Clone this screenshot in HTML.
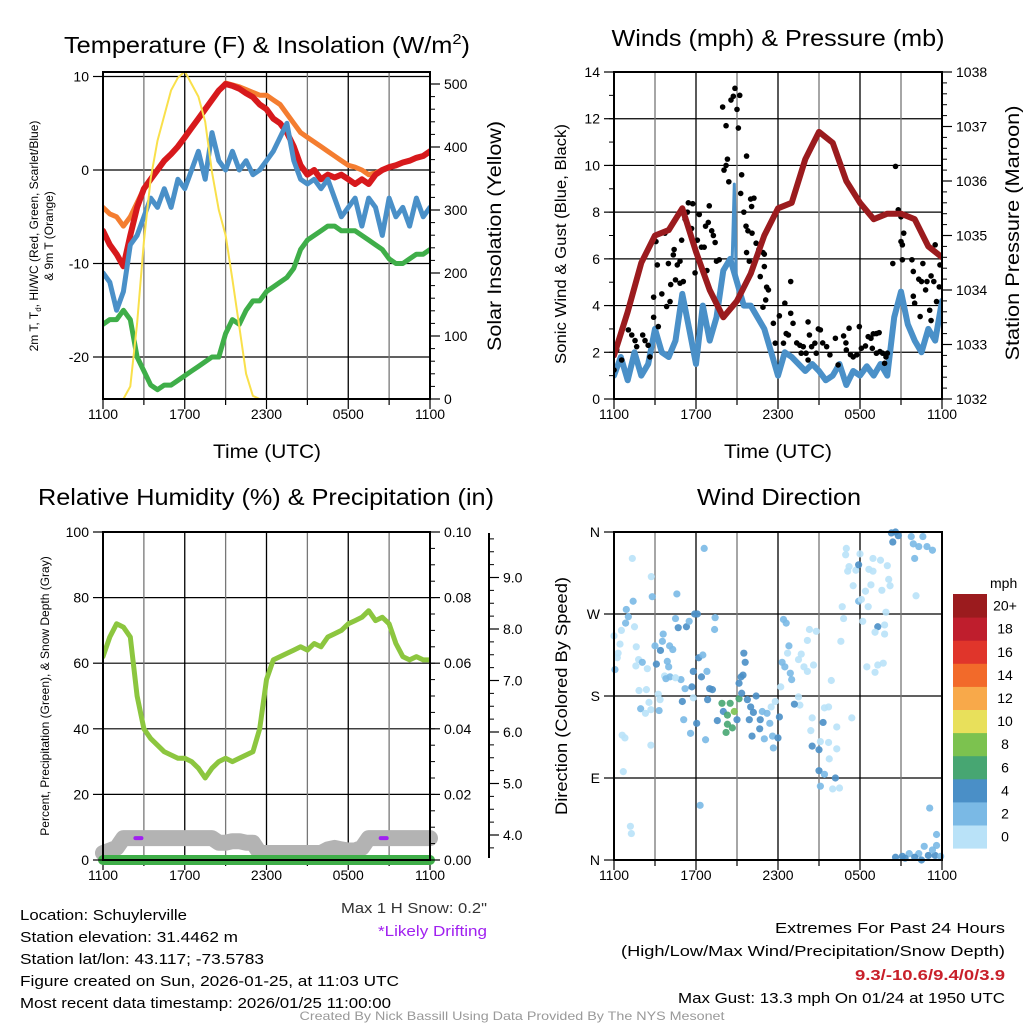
<!DOCTYPE html>
<html><head><meta charset="utf-8"><style>
html,body{margin:0;padding:0;background:#fff;}
svg{display:block;font-family:"Liberation Sans",Arial,sans-serif;}
</style></head><body>
<svg id="fig" width="1024" height="1024" viewBox="0 0 1024 1024" xmlns="http://www.w3.org/2000/svg">
<rect width="1024" height="1024" fill="#fff"/>
<text x="64" y="53" font-size="23" textLength="406" lengthAdjust="spacingAndGlyphs">Temperature (F) &amp; Insolation (W/m<tspan font-size="15" dy="-9">2</tspan><tspan dy="9">)</tspan></text>
<text x="778" y="46" font-size="23" text-anchor="middle" textLength="333" lengthAdjust="spacingAndGlyphs">Winds (mph) &amp; Pressure (mb)</text>
<text x="266" y="505" font-size="23" text-anchor="middle" textLength="456" lengthAdjust="spacingAndGlyphs">Relative Humidity (%) &amp; Precipitation (in)</text>
<text x="779" y="505" font-size="23" text-anchor="middle" textLength="164" lengthAdjust="spacingAndGlyphs">Wind Direction</text>

<text x="267" y="458" font-size="19" text-anchor="middle" textLength="108" lengthAdjust="spacingAndGlyphs">Time (UTC)</text>
<text x="778" y="458" font-size="19" text-anchor="middle" textLength="108" lengthAdjust="spacingAndGlyphs">Time (UTC)</text>

<text font-size="12" text-anchor="middle" transform="translate(38,236) rotate(-90)">2m T, T<tspan font-size="8" dy="3">d</tspan><tspan dy="-3">, HI/WC (Red, Green, Scarlet/Blue)</tspan></text>
<text font-size="12" text-anchor="middle" transform="translate(53,236) rotate(-90)">&amp; 9m T (Orange)</text>
<text font-size="19" text-anchor="middle" transform="translate(501,236) rotate(-90)" textLength="230" lengthAdjust="spacingAndGlyphs">Solar Insolation (Yellow)</text>
<text font-size="16" text-anchor="middle" transform="translate(566,244) rotate(-90)" textLength="240" lengthAdjust="spacingAndGlyphs">Sonic Wind &amp; Gust (Blue, Black)</text>
<text font-size="19" text-anchor="middle" transform="translate(1019,233) rotate(-90)" textLength="255" lengthAdjust="spacingAndGlyphs">Station Pressure (Maroon)</text>
<text font-size="12" text-anchor="middle" transform="translate(49,696) rotate(-90)">Percent, Precipitation (Green), &amp; Snow Depth (Gray)</text>
<text font-size="17" text-anchor="middle" transform="translate(567,696) rotate(-90)" textLength="238" lengthAdjust="spacingAndGlyphs">Direction (Colored By Speed)</text>

<g id="p1"></g>
<g id="p2"></g>
<g id="p3"></g>
<g id="p4"></g>
<g id="cbar"></g>

<g font-size="15">
<text x="20" y="920" textLength="167" lengthAdjust="spacingAndGlyphs">Location: Schuylerville</text>
<text x="20" y="942" textLength="218" lengthAdjust="spacingAndGlyphs">Station elevation: 31.4462 m</text>
<text x="20" y="964" textLength="244" lengthAdjust="spacingAndGlyphs">Station lat/lon: 43.117; -73.5783</text>
<text x="20" y="986" textLength="379" lengthAdjust="spacingAndGlyphs">Figure created on Sun, 2026-01-25, at 11:03 UTC</text>
<text x="20" y="1008" textLength="371" lengthAdjust="spacingAndGlyphs">Most recent data timestamp: 2026/01/25 11:00:00</text>
<text x="487" y="913" text-anchor="end" fill="#333" textLength="146" lengthAdjust="spacingAndGlyphs">Max 1 H Snow: 0.2"</text>
<text x="487" y="936" text-anchor="end" fill="#a020f0" textLength="109" lengthAdjust="spacingAndGlyphs">*Likely Drifting</text>
<text x="1005" y="933" text-anchor="end" textLength="230" lengthAdjust="spacingAndGlyphs">Extremes For Past 24 Hours</text>
<text x="1005" y="956" text-anchor="end" textLength="384" lengthAdjust="spacingAndGlyphs">(High/Low/Max Wind/Precipitation/Snow Depth)</text>
<text x="1005" y="980" text-anchor="end" fill="#c8202a" font-weight="bold" textLength="150" lengthAdjust="spacingAndGlyphs">9.3/-10.6/9.4/0/3.9</text>
<text x="1005" y="1003" text-anchor="end" textLength="327" lengthAdjust="spacingAndGlyphs">Max Gust: 13.3 mph On 01/24 at 1950 UTC</text>
<text x="512" y="1020" text-anchor="middle" font-size="12" fill="#999" textLength="425" lengthAdjust="spacingAndGlyphs">Created By Nick Bassill Using Data Provided By The NYS Mesonet</text>
</g>
</svg>
<script>
// ---- data (hours since 1100 UTC) ----
const halfHours = [0,0.5,1,1.5,2,2.5,3,3.5,4,4.5,5,5.5,6,6.5,7,7.5,8,8.5,9,9.5,10,10.5,11,11.5,12,12.5,13,13.5,14,14.5,15,15.5,16,16.5,17,17.5,18,18.5,19,19.5,20,20.5,21,21.5,22,22.5,23,23.5,24];
const timeTickLabels = ["1100","1700","2300","0500","1100"];
const tempRed = [-6.5,-8,-9,-10.3,-7,-4,-2,-1,0,1,1.7,2.5,3.5,4.5,5.5,6.5,7.5,8.5,9.2,9,8.7,8.2,7.8,7,6.5,5.5,5,4,2.5,0.5,-0.5,0,-1,-0.5,-0.8,-0.5,-1,-1.5,-1,-1.5,-0.5,0,0.3,0.5,0.8,1,1.3,1.5,2];
const tempOrange = [-4,-4.7,-5,-6,-5,-3.5,-2,-1,0,1,1.7,2.5,3.5,4.5,5.5,6.5,7.5,8.5,9.3,9.1,8.9,8.6,8.3,8,8,7.5,7,6,5,4,3.5,3,2.5,2,1.5,1,0.5,0.3,0,-0.5,-0.3,0,0.3,0.5,0.8,1,1.3,1.5,2];
const tempBlue = [-11,-12,-15,-13,-8,-7,-5,-3,-4,-2,-4,-1,-2,0,2,-1,4,1,0,2,0,1,-0.5,0,1,2,3.5,5,1,-1,-1.5,-1,-2,-1,-3,-5,-4,-3,-6,-3,-4,-7,-3,-5,-4,-6,-3,-5,-4];
const dewGreen = [-16.5,-16,-16,-15,-16,-20,-21.5,-23,-23.5,-23,-23,-22.5,-22,-21.5,-21,-20.5,-20,-20,-17.5,-16,-16.5,-15,-14,-14,-13,-12.5,-12,-11.5,-10.5,-8.5,-7.5,-7,-6.5,-6,-6,-6.5,-6.5,-6.5,-7,-7.5,-8,-8.5,-9.5,-10,-10,-9.5,-9,-9,-8.5];
const solar = [0,0,0,0,20,120,250,350,410,450,490,510,520,500,480,440,360,300,260,190,115,40,5,0,0,0,0,0,0,0,0,0,0,0,0,0,0,0,0,0,0,0,0,0,0,0,0,0,0];
const windSpeed = [1.0,1.8,0.8,2.0,1.0,1.5,3.0,2.0,1.8,2.5,4.5,3.0,1.5,4.0,2.5,3.5,5.5,6.0,5.0,4.0,4.0,3.5,3.0,2.0,1.0,2.0,1.8,1.5,1.2,1.5,1.2,0.8,1.0,1.5,0.6,1.2,1.0,1.4,1.0,1.5,1.0,3.5,4.6,3.2,2.5,2.0,3.0,2.5,4.2];
const spikeHour = [8.8]; const spikeSpeed = [9.2];
const pressureHours = [0,1,2,3,4,5,6,7,8,9,10,11,12,13,14,15,16,17,18,19,20,21,22,23,24];
const pressure = [1032.8,1033.6,1034.5,1035.0,1035.1,1035.5,1034.7,1034.0,1033.5,1033.8,1034.3,1035.0,1035.5,1035.6,1036.4,1036.9,1036.7,1036.0,1035.6,1035.3,1035.4,1035.4,1035.3,1034.8,1034.6];
const gustHours = [0,.2,.56,1.05,1.3,1.54,1.66,2.1,2.27,2.5,2.63,2.9,2.9,3.07,3.17,3.24,3.5,3.73,3.85,3.98,4.1,4.15,4.34,4.4,4.5,4.63,4.83,4.83,4.95,5.07,5.2,5.37,5.44,5.76,5.68,5.93,6.1,6.24,6.4,6.6,6.7,6.9,6.97,7.15,7.27,7.4,7.5,7.7,6.8,7.95,8.2,8.05,8.2,8.3,8.4,8.56,8.73,8.85,9.0,9.1,9.2,9.27,9.34,9.5,9.66,9.7,9.8,10.0,10.1,10.24,10.07,9.7,9.9,10.4,10.6,10.9,11.0,10.7,11.0,11.17,11.3,11.1,10.9,11.66,11.8,12.1,12.4,12.5,12.6,12.76,12.93,12.93,13.1,13.37,13.6,13.7,13.85,14.05,14.2,14.3,14.2,14.46,14.7,14.8,14.95,15.1,15.27,15.56,15.8,16.2,16.4,16.8,16.97,17.0,17.2,17.3,17.5,17.76,17.95,18.1,18.4,18.6,18.8,18.97,19.2,19.4,18.9,19.2,19.46,19.66,19.9,20.0,19.8,20.6,20.4,20.8,21.0,21.0,21.1,21.1,21.2,21.8,21.9,22.3,22.5,22.6,22.8,22.9,23.1,23.2,23.4,23.5,23.6,23.8,23.85,21.9,22.0,22.4,23.2];
const gustSpeed = [1.24,2.1,1.67,2.96,2.74,2.5,2.24,2.74,2.5,2.3,1.8,4.36,3.5,6.74,5.74,3.1,4.5,7.1,3.96,5.8,4.17,4.9,6.17,6.4,5.1,5.74,5.9,4.96,6.8,5.03,7.7,8.0,8.4,8.36,7.3,5.4,6.8,7.9,6.5,6.5,7.4,7.56,8.27,7.2,7.0,6.7,5.9,5.96,5.5,12.5,11.7,9.8,10.0,10.27,9.3,12.8,12.96,13.3,12.4,11.6,13.0,8.8,9.6,8.0,7.4,10.4,7.2,8.56,7.1,8.6,8.24,6.27,5.9,6.67,6.4,6.27,6.2,5.24,5.67,4.79,4.67,4.24,3.93,3.24,2.39,3.56,2.39,4.1,2.8,2.74,3.67,5.03,3.24,2.4,2.3,1.96,2.24,1.96,3.3,2.74,1.67,2.24,2.39,1.96,3.0,2.96,2.4,2.24,1.89,2.6,1.46,2.7,2.4,2.1,3.03,1.9,1.8,1.89,3.1,2.17,2.27,2.67,2.6,2.79,2.8,2.84,2.17,1.96,2.03,1.96,1.8,1.96,1.53,9.96,5.8,8.1,6.74,7.8,6.6,5.96,7.1,5.96,5.46,5.13,5.03,5.8,4.67,5.03,3.8,5.27,5.03,6.6,4.17,4.8,5.74,4.4,4.1,3.53,3.36];
const rh = [62,68,72,71,68,50,40,37,35,33,32,31,31,30,28,25,28,30,31,30,31,32,33,40,55,61,62,63,64,65,64,66,65,68,69,70,72,73,74,76,73,74,72,66,62,61,62,61,61];
const precip = [0,0,0,0,0,0,0,0,0,0,0,0,0,0,0,0,0,0,0,0,0,0,0,0,0,0,0,0,0,0,0,0,0,0,0,0,0,0,0,0,0,0,0,0,0,0,0,0,0];
const snowDepth = [3.65,3.7,3.75,3.94,3.94,3.94,3.94,3.94,3.94,3.94,3.94,3.94,3.94,3.94,3.94,3.94,3.94,3.85,3.85,3.88,3.88,3.85,3.85,3.65,3.65,3.65,3.65,3.65,3.65,3.65,3.65,3.65,3.65,3.72,3.75,3.72,3.7,3.7,3.75,3.94,3.94,3.94,3.94,3.94,3.94,3.94,3.94,3.94,3.94];
const driftHours = [2.6,20.6]; const driftDepth = [3.94,3.94];
const dirHours = [1.34,2.73,2.8,1.4,0.9,1.05,0.85,0,0.54,1.5,0.44,0.3,0.24,0.07,1.63,1.8,2.07,2.44,1.6,1.83,2.37,3.24,3.37,2.56,1.95,2.3,2.7,3.3,0.6,0.8,2.7,0.68,1.2,1.27,4.6,4.5,4.7,5.3,5.5,5.9,6.1,7.4,7.36,3.6,3.54,3.0,3.4,4.07,4.3,3.1,3.9,4.0,3.7,3.8,4.1,4.9,4.5,5.2,5.7,5.0,5.1,5.6,6.05,6.2,6.5,5.8,6.4,6.8,7.0,7.2,6.85,6.7,5.8,7.56,7.9,8.0,8.3,8.5,8.8,8.3,8.66,8.2,9.15,9.0,9.3,9.44,9.15,9.34,9.5,9.6,9.76,10.0,10.2,10.4,9.9,10.1,10.7,10.66,10.85,11.2,11.4,11.0,11.6,11.66,12.0,12.1,11.8,11.5,12.2,12.3,12.5,12.4,12.6,12.8,12.7,12.9,13.0,13.5,13.7,13.9,14.15,14.6,14.3,14.8,14.15,13.5,13.6,13.2,14.5,14.4,15.3,15.4,15.7,16.3,15.9,14.5,15.0,15.1,15.7,16.3,15.75,15.0,15.4,16.2,15.1,16.0,16.5,17.4,16.6,16.8,16.7,17.9,18.1,18.6,18.2,17.5,17.1,17.2,17.7,17.9,16.95,17.0,18.0,18.4,18.8,18.65,18.95,18.95,19.5,20.0,20.1,20.2,19.6,19.9,19.8,19.3,19.1,19.8,18.5,19.3,19.7,19.1,20.3,20.6,20.8,20.4,21.75,22.6,21.9,22.3,22.9,23.3,22.0,22.1,23.1,23.6,23.6,22.7,22.3,20.6,21.1,21.6,21.3,22.5,23.0,23.5,23.9,22.0,23.3,6.6,6.3];
const dirDeg = [331,311,289,284,275,267,260,246,252,256,237,227,222,209,234,220,217,210,213,186,187,182,176,173,166,161,165,164,137,134,126,97,37,29,292,265,255,256,262,270,270,266,253,248,240,235,230,235,231,215,218,212,202,199,201,198,200,188,190,174,154,139,150,222,225,207,201,207,188,187,176,132,178,153,172,163,159,172,163,149,145,140,177,154,201,203,194,183,227,217,176,168,162,180,154,136,154,144,163,161,150,133,136,123,134,157,174,168,190,217,212,264,260,235,227,205,198,220,226,212,207,214,253,251,241,179,170,171,156,142,151,167,168,146,197,125,121,130,129,122,111,98,94,90,81,78,79,156,240,265,278,284,286,278,262,301,317,322,318,324,335,342,336,295,302,319,317,331,329,323,308,301,296,272,258,256,250,248,212,214,216,206,359,360,356,349,355,355,347,344,344,340,331,290,57,28,16,15,7,3,4,7,2,0,5,5,4,3,11,342,60];
const dirSpeed = [0,0,2,2,2,2,2,0,0,0,0,0,0,2,0,0,2,0,0,0,0,0,0,0,2,0,0,2,0,0,0,0,0,0,2,2,4,4,2,4,4,2,2,2,2,2,4,2,2,4,2,2,0,2,2,2,0,2,4,4,2,2,4,4,2,4,4,2,4,4,4,2,0,4,6,4,6,6,8,6,6,6,6,4,4,4,4,4,4,4,4,4,4,4,4,4,4,4,2,2,2,2,2,2,4,4,0,0,0,2,2,2,2,2,0,2,2,0,0,0,0,0,0,0,0,0,0,4,0,0,4,0,0,0,0,4,4,0,0,0,0,4,2,4,2,0,0,0,0,0,0,2,0,0,0,0,0,0,0,4,0,0,0,0,0,0,0,0,0,0,0,0,0,0,0,4,0,0,0,0,0,0,4,4,4,4,2,2,2,2,2,2,2,0,2,2,2,2,2,4,4,2,4,4,4,4,2,4,2,2,2];
const cbarLabels = ["0","2","4","6","8","10","12","14","16","18","20+"];
const cbarColors = ["#b9e2f8","#7ab9e5","#4a8fc7","#47a672","#7cc24f","#e8e05b","#f8a94a","#f26a2a","#e0352b","#bf1e2d","#9b1b1e"];

// ---- drawing ----
const NS="http://www.w3.org/2000/svg";
function mk(parent, tag, attrs){const e=document.createElementNS(NS,tag);for(const k in attrs)e.setAttribute(k,attrs[k]);parent.appendChild(e);return e;}
function lin(d0,d1,r0,r1){return v=>r0+(v-d0)*(r1-r0)/(d1-d0);}

function panelFrame(g,L,T,R,B){
  const xs=lin(0,24,L,R);
  for(let h=3;h<24;h+=3){
    const gl=mk(g,'line',{x1:xs(h),x2:xs(h),y1:T,y2:B,stroke:(h%6===0)?'#000':'#777','stroke-width':1.3});
    
    
  }
  for(let h=0;h<=24;h+=3){
    const t=mk(g,'line',{x1:xs(h),x2:xs(h),y1:B,y2:B+(h%6===0?10:6),stroke:'#000','stroke-width':1.2});
    
    
  }
  timeTickLabels.forEach((s,i)=>{
    const t=mk(g,'text',{x:xs(i*6),y:B+20,'font-size':14,'text-anchor':'middle'});t.textContent=s;
    
    
  });
  return xs;
}
function border(g,L,T,R,B){
  const r=mk(g,'rect',{x:L,y:T,width:R-L,height:B-T,fill:'none',stroke:'#000','stroke-width':2});
  
  
}
function yAxis(g,x,ys,vals,labels,side,minor,T,B){
  const dir=side==='left'?-1:1;
  vals.forEach((v,i)=>{
    const y=ys(v);
    const t=mk(g,'line',{x1:x,x2:x+dir*10,y1:y,y2:y,stroke:'#000','stroke-width':1.2});
    
    
    const tx=mk(g,'text',{x:x+dir*14,y:y+5,'font-size':14,'text-anchor':side==='left'?'end':'start'});tx.textContent=labels[i];
    
    
  });
  if(minor){minor.forEach(v=>{const y=ys(v);if(y<T-0.5||y>B+0.5)return;
    const t=mk(g,'line',{x1:x,x2:x+dir*5,y1:y,y2:y,stroke:'#000','stroke-width':1});
    
    });}
}
function hgrid(g,L,R,ys,vals){vals.forEach(v=>{const l=mk(g,'line',{x1:L,x2:R,y1:ys(v),y2:ys(v),stroke:'#000','stroke-width':1.2});
  
  });}
function path(g,xs,ys,hx,vy,color,w,name){
  const d=hx.map((h,i)=>(i?'L':'M')+xs(h).toFixed(1)+','+ys(vy[i]).toFixed(1)).join('');
  const p=mk(g,'path',{d:d,fill:'none',stroke:color,'stroke-width':w,'stroke-linejoin':'round','stroke-linecap':'round'});
  
  
  return p;
}
function range(a,b,s){const r=[];for(let v=a;v<=b+1e-9;v+=s)r.push(+v.toFixed(3));return r;}

// Panel 1
(function(){
  const g=document.getElementById('p1');const L=103,T=72,R=430,B=399;
  const ys=lin(0,10,170,76.5), ys2=lin(0,500,399,84);
  hgrid(g,L,R,ys,[-20,-10,0,10]);
  const xs=panelFrame(g,L,T,R,B);
  const cl=mk(g,'clipPath',{id:'c1'});mk(cl,'rect',{x:L,y:T,width:R-L,height:B-T});
  const pg=mk(g,'g',{'clip-path':'url(#c1)'});
  path(pg,xs,ys,halfHours,dewGreen,'#3fae49',5,'dewpoint-line');
  path(pg,xs,ys,halfHours,tempOrange,'#f47d30',5,'temp-9m-line');
  path(pg,xs,ys,halfHours,tempRed,'#d7191c',6,'temp-2m-line');
  path(pg,xs,ys,halfHours,tempBlue,'#4a90c8',5,'windchill-line');
  path(pg,xs,ys2,halfHours,solar,'#f9e04b',2,'solar-line');
  border(g,L,T,R,B);
  yAxis(g,L,ys,[-20,-10,0,10],['-20','-10','0','10'],'left',null,T,B);
  yAxis(g,R,ys2,[0,100,200,300,400,500],['0','100','200','300','400','500'],'right',range(0,520,20),T,B);
})();

// Panel 2
(function(){
  const g=document.getElementById('p2');const L=614,T=72,R=942,B=399;
  const ys=lin(0,14,399,72), ys2=lin(1032,1038,399,72);
  hgrid(g,L,R,ys,[2,4,6,8,10,12]);
  const xs=panelFrame(g,L,T,R,B);
  const cl=mk(g,'clipPath',{id:'c2'});mk(cl,'rect',{x:L,y:T,width:R-L,height:B-T});
  const pg=mk(g,'g',{'clip-path':'url(#c2)'});
  path(pg,xs,ys,halfHours,windSpeed,'#4a90c8',6,'wind-speed-line');
  const sh=[spikeHour[0]-0.15,spikeHour[0],spikeHour[0]+0.15];
  path(pg,xs,ys,sh,[windSpeed[17],spikeSpeed[0],windSpeed[18]],'#4a90c8',3,'wind-spike');
  gustHours.forEach((h,i)=>{const c=mk(pg,'circle',{cx:xs(h),cy:ys(gustSpeed[i]),r:2.8,fill:'#000'});
    
    });
  path(pg,xs,ys2,pressureHours,pressure,'#9b1b1e',6,'pressure-line');
  border(g,L,T,R,B);
  yAxis(g,L,ys,range(0,14,2),range(0,14,2).map(String),'left',range(0,14,1),T,B);
  yAxis(g,R,ys2,range(1032,1038,1),range(1032,1038,1).map(String),'right',range(1032,1038,0.2),T,B);
})();

// Panel 3
(function(){
  const g=document.getElementById('p3');const L=103,T=532,R=430,B=860;
  const ys=lin(0,100,860,532), ysP=lin(0,0.1,860,532), ysS=lin(4,9,835,577.5);
  hgrid(g,L,R,ys,[20,40,60,80]);
  const xs=panelFrame(g,L,T,R,B);
  path(g,xs,ysS,halfHours,snowDepth,'#b3b3b3',16,'snow-depth-line');
  driftHours.forEach((h,i)=>{const l=mk(g,'line',{x1:xs(h)-3,x2:xs(h)+3,y1:ysS(driftDepth[i]),y2:ysS(driftDepth[i]),stroke:'#a020f0','stroke-width':4,'stroke-linecap':'round'});
    
    });
  path(g,xs,ysP,halfHours,precip,'#3fae49',10,'precip-line');
  const cl=mk(g,'clipPath',{id:'c3'});mk(cl,'rect',{x:L,y:T,width:R-L,height:B-T});
  const pg=mk(g,'g',{'clip-path':'url(#c3)'});
  path(pg,xs,ys,halfHours,rh,'#8cc63f',5,'rh-line');
  border(g,L,T,R,B);
  yAxis(g,L,ys,range(0,100,20),range(0,100,20).map(String),'left',null,T,B);
  yAxis(g,R,ysP,range(0,0.1,0.02),['0.00','0.02','0.04','0.06','0.08','0.10'],'right',range(0,0.1,0.005),T,B);
  const ax=mk(g,'line',{x1:489,x2:489,y1:533,y2:858,stroke:'#000','stroke-width':2});
  
  
  yAxis(g,489,ysS,[4,5,6,7,8,9],['4.0','5.0','6.0','7.0','8.0','9.0'],'right',range(3.5,9.75,0.25).filter(v=>ysS(v)>=533&&ysS(v)<=858),533,858);
})();

// Panel 4
(function(){
  const g=document.getElementById('p4');const L=614,T=532,R=942,B=860;
  const ys=lin(0,360,860,532);
  hgrid(g,L,R,ys,[90,180,270]);
  const xs=panelFrame(g,L,T,R,B);
  const cl=mk(g,'clipPath',{id:'c4'});mk(cl,'rect',{x:L-4,y:T-4,width:R-L+8,height:B-T+8});
  const pg=mk(g,'g',{'clip-path':'url(#c4)'});
  dirHours.forEach((h,i)=>{const c=mk(pg,'circle',{cx:xs(h),cy:ys(dirDeg[i]),r:3.6,fill:cbarColors[dirSpeed[i]/2],'fill-opacity':0.9});
    
    });
  border(g,L,T,R,B);
  yAxis(g,L,ys,[0,90,180,270,360],['N','E','S','W','N'],'left',null,T,B);
})();

// Colorbar
(function(){
  const g=document.getElementById('cbar');const x=953,w=34,top=594,h=23.1;
  const t=mk(g,'text',{x:990,y:588,'font-size':14});t.textContent='mph';
  
  
  cbarColors.forEach((c,i)=>{
    const y=top+(cbarColors.length-1-i)*h;
    const r=mk(g,'rect',{x:x,y:y,width:w,height:h+0.5,fill:c});
    
    
    const tx=mk(g,'text',{x:1005,y:y+h/2+5,'font-size':14,'text-anchor':'middle'});tx.textContent=cbarLabels[i];
    
    
  });
})();
</script>
</body></html>
